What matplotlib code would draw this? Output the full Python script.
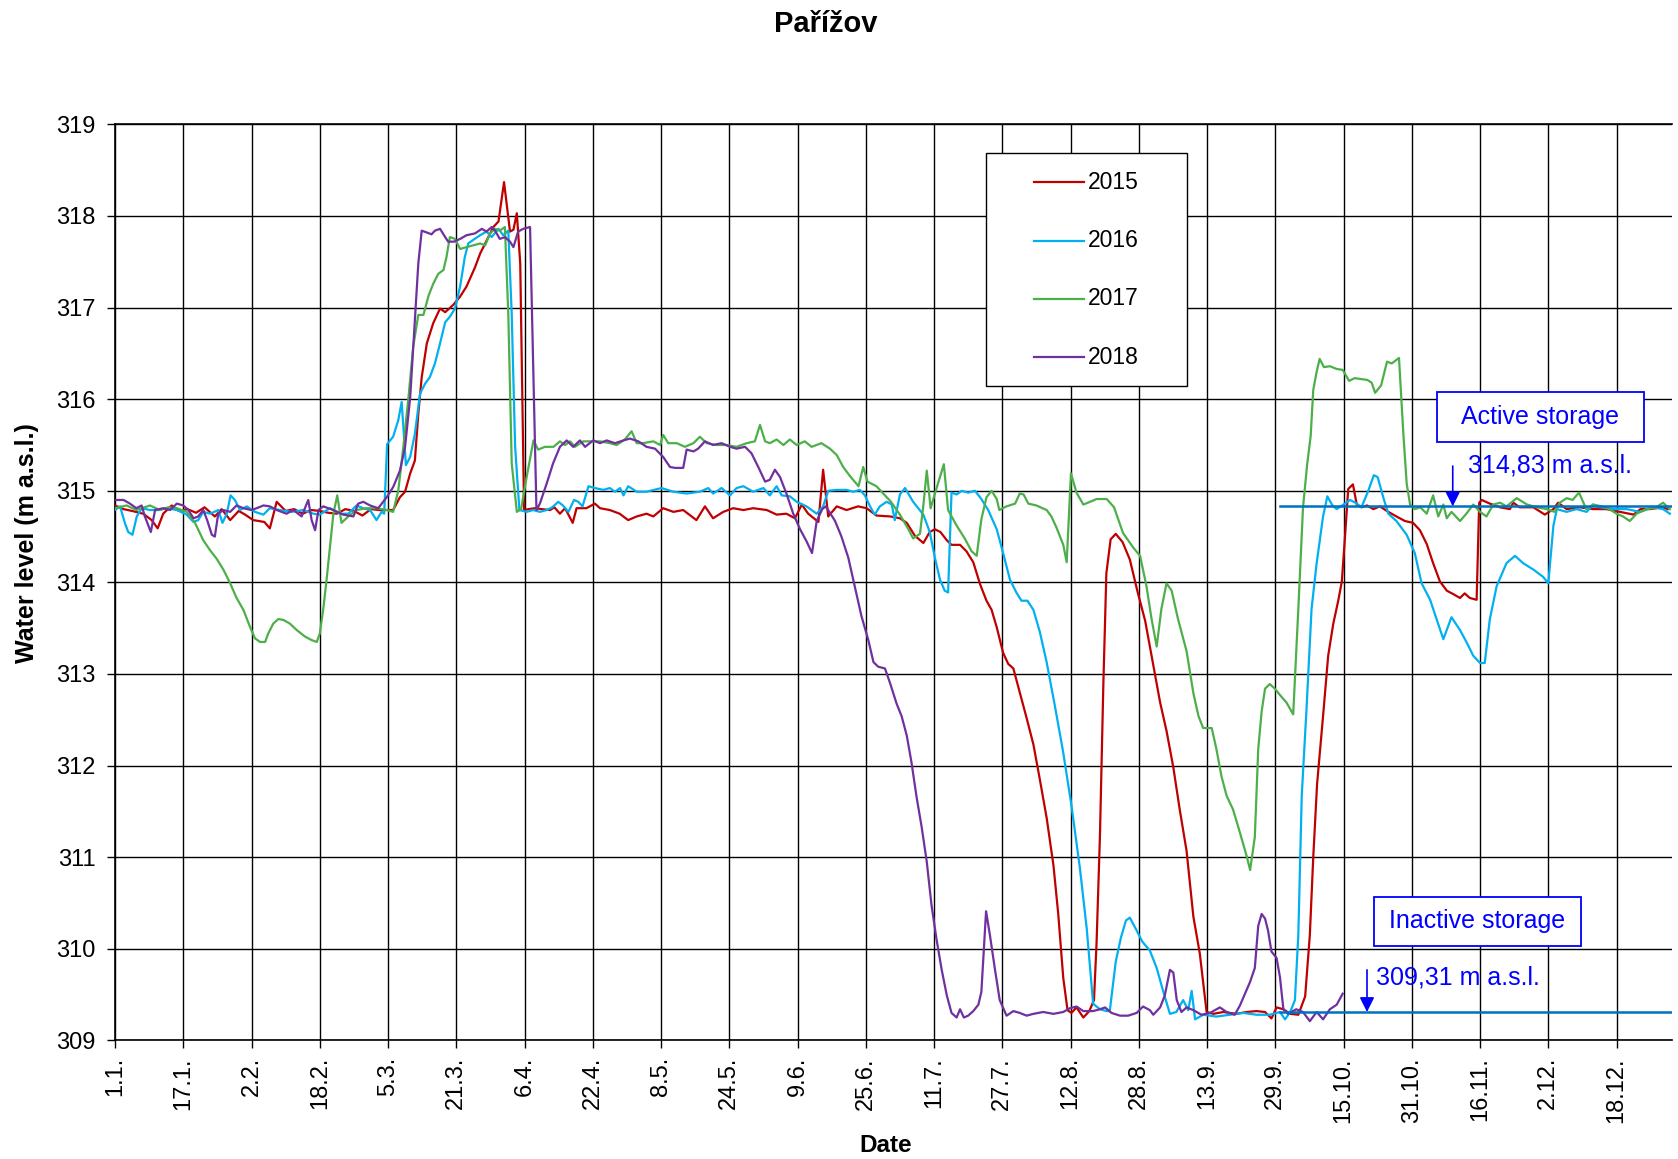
import matplotlib
matplotlib.use('Agg')
import matplotlib.pyplot as plt
from matplotlib.patches import Rectangle
from matplotlib.lines import Line2D

plt.rcParams['font.family'] = ['Liberation Sans', 'DejaVu Sans']

# ---------------- data (day of year, 0 = 1 January) ----------------
years = ['2015', '2016', '2017', '2018']
colors = ['#C00000', '#00B0F0', '#4DAF4A', '#7030A0']

d2015 = [0, 2, 4, 6.6, 8.6, 10, 11.3, 13.3, 15, 17, 19, 21, 23.4, 25, 27, 29, 30.5, 32.4, 35, 36.3, 37.9, 40, 42, 44,
         46, 48, 50, 52, 54, 56, 58, 60, 62, 65.2, 66.8, 68, 69.2, 70.3, 71.1, 71.9, 73.1, 74.6, 76.2, 77.4, 79.3,
         80.9, 82.4, 84.4, 85.6, 87.1, 88.7, 89.9, 91.2, 92.6, 93.4, 94.2, 95, 95.9, 97, 98.5, 100, 102, 103, 104.3,
         105.5, 106.3, 107.3, 108.2, 110.5, 112.5, 113.7, 116, 118.3, 120.3, 122.3, 124.6, 126.2, 128.5, 130.9,
         133.2, 136.3, 138.3, 140.2, 142.6, 144.9, 147.3, 149.6, 152.8, 155.1, 157.4, 159.4, 161, 162.5, 164.9, 166,
         167.2, 169.2, 171.5, 174.2, 176.2, 178.5, 181.7, 184, 185.6, 187.5, 189.5, 191, 192.2, 193.5, 195, 196.1,
         198.1, 199.6, 201.2, 202.8, 204.3, 205.5, 206.7, 208.2, 209.4, 210.6, 212.1, 213.7, 215.3, 216.8, 218.4,
         220, 221.1, 222.3, 223.3, 224.2, 225.4, 227, 228.4, 229.5, 230.1, 230.9, 231.7, 232.4, 233.4, 234.6, 236.2,
         237.9, 239.7, 241.5, 243.4, 245, 246.5, 248.1, 249.6, 251.2, 252.8, 254.3, 255.9, 257.5, 259.8, 262.9,
         265.3, 267.6, 269.6, 271.1, 272.3, 273.9, 275.5, 277.4, 279, 280.1, 280.9, 281.8, 283.2, 284.4, 285.6,
         286.8, 287.6, 288.3, 289.1, 290.2, 291.1, 292.2, 293.5, 295, 296.5, 298.5, 300.4, 302.4, 304.3, 305.9,
         307.5, 309, 310.6, 312.2, 313.8, 315.3, 316.4, 317.6, 319.2, 319.8, 320.4, 322.3, 324.7, 327, 327.8, 329.3,
         332.5, 335.2, 337.2, 338.3, 340.3, 343.4, 346.5, 349.6, 352.8, 356, 357.6, 359.8, 362.9, 364]
v2015 = [314.84, 314.80, 314.78, 314.75, 314.68, 314.59, 314.75, 314.84, 314.78, 314.80, 314.76, 314.82, 314.72,
         314.80, 314.68, 314.78, 314.74, 314.68, 314.66, 314.59, 314.88, 314.78, 314.80, 314.75, 314.79, 314.78,
         314.76, 314.75, 314.80, 314.78, 314.73, 314.80, 314.79, 314.79, 314.93, 314.99, 315.19, 315.33, 315.84,
         316.24, 316.61, 316.83, 316.99, 316.95, 317.03, 317.12, 317.23, 317.44, 317.59, 317.73, 317.88, 317.94,
         318.37, 317.83, 317.85, 318.03, 317.48, 314.79, 314.80, 314.81, 314.80, 314.79, 314.82, 314.75, 314.81,
         314.74, 314.65, 314.81, 314.81, 314.86, 314.81, 314.79, 314.75, 314.68, 314.72, 314.75, 314.72, 314.81,
         314.77, 314.79, 314.68, 314.83, 314.70, 314.77, 314.81, 314.79, 314.81, 314.79, 314.74, 314.75, 314.70,
         314.85, 314.75, 314.66, 315.23, 314.72, 314.83, 314.79, 314.83, 314.81, 314.73, 314.72, 314.70, 314.65,
         314.51, 314.43, 314.55, 314.58, 314.55, 314.46, 314.41, 314.41, 314.34, 314.22, 313.98, 313.80, 313.70,
         313.51, 313.23, 313.11, 313.06, 312.80, 312.52, 312.23, 311.85, 311.43, 310.91, 310.39, 309.68, 309.33,
         309.30, 309.36, 309.25, 309.32, 309.44, 310.06, 311.24, 312.90, 314.10, 314.47, 314.53, 314.44, 314.25,
         313.90, 313.58, 313.10, 312.69, 312.38, 311.98, 311.52, 311.07, 310.35, 309.95, 309.31, 309.29, 309.31,
         309.29, 309.31, 309.32, 309.31, 309.24, 309.36, 309.34, 309.29, 309.28, 309.48, 310.15, 311.00, 311.80,
         312.54, 313.20, 313.55, 313.81, 314.01, 314.47, 315.02, 315.07, 314.85, 314.82, 314.84, 314.80, 314.83,
         314.77, 314.72, 314.67, 314.65, 314.57, 314.42, 314.21, 314.01, 313.91, 313.87, 313.83, 313.88, 313.83,
         313.81, 314.87, 314.90, 314.86, 314.82, 314.80, 314.87, 314.82, 314.82, 314.74, 314.80, 314.87, 314.80,
         314.82, 314.80, 314.80, 314.77, 314.74, 314.80, 314.80, 314.82, 314.80]

d2016 = [0, 1.2, 2.3, 3.1, 4.1, 5.1, 6.3, 8.2, 10.2, 12.1, 14.5, 16.8, 18.4, 19.5, 20.7, 22.3, 24.2, 25.2, 26.2, 27.1,
         28.1, 29.3, 30.9, 32.8, 34.8, 36.3, 38.7, 41.4, 44.1, 46.5, 48, 50.4, 52.7, 54.7, 56.6, 58.2, 59.8, 61.3,
         62.5, 63.1, 63.8, 65.2, 66.4, 67.2, 68.2, 69.2, 70.3, 71.5, 72.7, 73.8, 75, 76.2, 77.4, 78.5, 79.7, 80.9, 82,
         82.8, 84, 85.6, 87.1, 88.3, 89.9, 91, 92.2, 93, 93.8, 94.8, 96.5, 98, 99.6, 101.2, 102.5, 103.9, 105, 106.3,
         107.6, 108.6, 109.6, 111, 112.5, 114.5, 116, 117.2, 118.4, 119.2, 120.3, 122.3, 124.6, 128.1, 130.9, 134,
         137.1, 139.1, 140.2, 142.2, 144.2, 145.7, 147.3, 149.6, 152, 153.5, 155.1, 156.3, 158.2, 159.8, 162.1, 164.5,
         166, 167.2, 169.2, 171.5, 173.1, 174.6, 175.8, 177, 178.1, 179.3, 180.9, 182.1, 182.8, 184, 185.2, 187.1,
         189.5, 191, 192.2, 193.4, 194.5, 195.3, 196.1, 197.3, 198.5, 200, 201.6, 203.1, 204.7, 206.7, 208.2, 209.8,
         211.3, 212.5, 213.9, 215.3, 216.8, 218.4, 220.3, 222.3, 224.2, 226.2, 227.8, 229.3, 230.9, 232.5, 233.2,
         234.6, 235.8, 237, 237.9, 239.5, 240.8, 242.6, 244.2, 245.7, 247.3, 248.8, 250.4, 251.6, 252.4, 253.2, 255.1,
         258.2, 261.3, 264.5, 267.6, 270.7, 273.1, 274.3, 275.5, 276.6, 277.4, 278.2, 279.3, 280.5, 281.7, 283.2,
         284.2, 285.4, 286.4, 288, 289.5, 290.8, 292.2, 293.8, 295.1, 296, 297.3, 298.5, 300.4, 302.8, 304.7, 306.3,
         308.3, 309.8, 311.4, 313.3, 315.3, 316.8, 318.4, 320, 321.1, 322.3, 323.9, 326.2, 328.2, 330.1, 332.5, 334.8,
         336, 337.2, 338, 340.3, 342.6, 345, 346.5, 348.1, 351.2, 354.4, 357.5, 360.6, 362.9, 364.5]
v2016 = [314.79, 314.83, 314.65, 314.55, 314.52, 314.72, 314.81, 314.79, 314.79, 314.81, 314.79, 314.74, 314.66,
         314.68, 314.77, 314.75, 314.79, 314.65, 314.75, 314.95, 314.90, 314.79, 314.83, 314.77, 314.74, 314.81,
         314.79, 314.77, 314.79, 314.75, 314.74, 314.81, 314.75, 314.75, 314.84, 314.81, 314.79, 314.68, 314.77,
         314.75, 315.51, 315.59, 315.77, 315.97, 315.28, 315.37, 315.62, 316.06, 316.17, 316.24, 316.39, 316.61,
         316.84, 316.90, 316.99, 317.23, 317.55, 317.70, 317.74, 317.79, 317.83, 317.77, 317.86, 317.79, 317.84,
         316.93, 315.48, 314.79, 314.77, 314.79, 314.77, 314.79, 314.82, 314.88, 314.84, 314.77, 314.90, 314.88,
         314.83, 315.05, 315.03, 315.01, 315.03, 314.99, 315.03, 314.95, 315.05, 314.99, 314.99, 315.03, 314.99,
         314.97, 314.99, 315.03, 314.97, 315.03, 314.95, 315.03, 315.05, 314.99, 315.03, 314.95, 315.05, 314.95,
         314.94, 314.88, 314.83, 314.75, 314.83, 315.00, 315.01, 315.01, 314.99, 315.01, 314.95, 314.83, 314.74,
         314.83, 314.88, 314.85, 314.68, 314.96, 315.03, 314.88, 314.74, 314.55, 314.27, 314.03, 313.91, 313.89,
         314.98, 314.96, 315.00, 314.98, 315.00, 314.91, 314.79, 314.58, 314.32, 314.03, 313.89, 313.80, 313.80,
         313.70, 313.46, 313.13, 312.66, 312.14, 311.57, 310.88, 310.22, 309.40, 309.34, 309.32, 309.32, 309.86,
         310.12, 310.31, 310.34, 310.20, 310.08, 309.98, 309.79, 309.54, 309.29, 309.31, 309.44, 309.33, 309.54,
         309.23, 309.28, 309.26, 309.28, 309.30, 309.28, 309.28, 309.31, 309.23, 309.31, 309.44, 310.15, 311.67,
         312.60, 313.71, 314.21, 314.72, 314.94, 314.84, 314.80, 314.85, 314.90, 314.87, 314.82, 315.00, 315.17,
         315.15, 314.93, 314.75, 314.67, 314.52, 314.32, 313.99, 313.81, 313.60, 313.38, 313.62, 313.48, 313.35,
         313.20, 313.12, 313.12, 313.60, 313.96, 314.21, 314.29, 314.21, 314.14, 314.06, 313.99, 314.62, 314.80,
         314.77, 314.80, 314.77, 314.85, 314.82, 314.80, 314.80, 314.77, 314.82, 314.80, 314.75]

d2017 = [0, 2.7, 5, 8.2, 10.5, 12.5, 14.5, 16.8, 18.75, 20.7, 22.3, 23.8, 25.4, 27, 28.5, 30.1, 31.6, 32.8, 34, 35.2,
         35.9, 37.1, 38.3, 39.5, 41, 42.6, 44.5, 46.1, 47.3, 48, 48.8, 49.6, 50.4, 51.2, 52.1, 53.1, 54.7, 56.6, 59,
         61.3, 63.7, 65.2, 66.4, 67.6, 68.8, 69.9, 71.1, 72.3, 73.5, 74.6, 75.8, 77, 77.7, 78.5, 79.7, 80.9, 82.4, 84,
         85.6, 86.8, 87.9, 89.1, 90.2, 91.4, 92.2, 93, 94.2, 95.2, 96.5, 98.1, 99.2, 100.8, 102.8, 104.3, 105.5, 106.7,
         107.8, 109.8, 111.7, 113.7, 116, 117.6, 119.5, 121.1, 122.3, 123.8, 126.2, 127.8, 128.5, 129.7, 131.7, 133.6,
         135.6, 137.1, 138.7, 141, 143.4, 145.7, 148.1, 150, 151.2, 152.4, 153.5, 155.1, 156.7, 158.2, 159.8, 161.7,
         163.3, 165.6, 167.6, 169.2, 170.7, 172.3, 174.3, 175.4, 176.4, 178.5, 180.1, 181.9, 184, 186, 187.1, 188.7,
         189.5, 190.3, 191.2, 192.6, 194.3, 195.3, 197.3, 199.2, 200.8, 202, 203.1, 204.3, 205.5, 206.7, 207.3, 209,
         211, 212.1, 213, 214.1, 216, 218.4, 219.5, 220.7, 222.3, 223.1, 224.1, 225.4, 227, 228.6, 230.1, 232.5,
         234.2, 236.3, 238.7, 240.3, 241.8, 243, 244.2, 245.3, 246.5, 247.7, 249.2, 251.2, 252.8, 254, 255.1, 257.1,
         258.2, 259.4, 260.6, 262.1, 263.7, 265.3, 266.1, 267.2, 268, 268.8, 269.6, 270.7, 271.9, 273.1, 274.6, 276.2,
         277.4, 278.5, 279.5, 280.3, 280.9, 281.7, 282.4, 283.4, 284.8, 286.4, 287.8, 289.3, 290.6, 292.1, 293.6,
         294.6, 295.4, 296.8, 298.2, 299.3, 301, 302, 302.8, 303.6, 304.7, 306, 307.5, 309, 310.2, 311.4, 312.2,
         313.3, 315.3, 316.8, 318.4, 320, 321.5, 323.1, 324.7, 326.2, 328.6, 331, 333.3, 335.6, 337.5, 338.7, 340.3,
         341.7, 343.2, 344.9, 346.5, 349.6, 352, 353.5, 355.1, 356.7, 359, 361.3, 362.9, 364.5]
v2017 = [314.81, 314.84, 314.79, 314.84, 314.79, 314.82, 314.81, 314.77, 314.65, 314.46, 314.35, 314.26, 314.14,
         313.99, 313.83, 313.70, 313.52, 313.39, 313.35, 313.35, 313.44, 313.55, 313.60, 313.59, 313.55, 313.48,
         313.41, 313.37, 313.35, 313.44, 313.70, 314.03, 314.39, 314.75, 314.95, 314.65, 314.72, 314.79, 314.81,
         314.81, 314.79, 314.77, 315.00, 315.48, 316.02, 316.57, 316.92, 316.92, 317.13, 317.26, 317.37, 317.41,
         317.55, 317.77, 317.75, 317.64, 317.66, 317.68, 317.70, 317.68, 317.81, 317.86, 317.84, 317.88, 316.93,
         315.30, 314.77, 314.80, 315.15, 315.55, 315.45, 315.48, 315.48, 315.54, 315.50, 315.54, 315.48, 315.54,
         315.54, 315.54, 315.52, 315.50, 315.56, 315.65, 315.52, 315.52, 315.54, 315.50, 315.61, 315.52, 315.52,
         315.48, 315.52, 315.59, 315.52, 315.50, 315.50, 315.48, 315.52, 315.54, 315.72, 315.54, 315.52, 315.56,
         315.50, 315.56, 315.50, 315.54, 315.48, 315.52, 315.46, 315.39, 315.26, 315.16, 315.05, 315.26, 315.10,
         315.05, 314.97, 314.88, 314.74, 314.58, 314.48, 314.53, 314.84, 315.22, 314.81, 315.03, 315.29, 314.79,
         314.62, 314.48, 314.34, 314.29, 314.69, 314.93, 315.00, 314.91, 314.79, 314.83, 314.86, 314.97, 314.96,
         314.86, 314.84, 314.79, 314.72, 314.60, 314.41, 314.22, 315.19, 314.98, 314.85, 314.88, 314.91, 314.91,
         314.82, 314.54, 314.38, 314.29, 313.96, 313.60, 313.30, 313.71, 313.99, 313.91, 313.60, 313.25, 312.79,
         312.54, 312.41, 312.41, 312.18, 311.88, 311.67, 311.52, 311.27, 311.01, 310.86, 311.22, 312.18, 312.59,
         312.84, 312.89, 312.84, 312.77, 312.69, 312.56, 313.71, 314.82, 315.30, 315.60, 316.10, 316.30, 316.44,
         316.35, 316.36, 316.33, 316.32, 316.20, 316.23, 316.22, 316.21, 316.18, 316.07, 316.15, 316.41, 316.39,
         316.45, 315.64, 315.08, 314.85, 314.80, 314.82, 314.75, 314.95, 314.72, 314.85, 314.70, 314.77, 314.67,
         314.75, 314.85, 314.77, 314.72, 314.85, 314.87, 314.83, 314.92, 314.85, 314.82, 314.80, 314.77, 314.87,
         314.92, 314.90, 314.98, 314.80, 314.85, 314.82, 314.75, 314.72, 314.67, 314.75, 314.80, 314.82, 314.87,
         314.80]

d2018 = [0, 2, 3.5, 5, 6.25, 7, 8.4, 9.4, 11.3, 12.9, 14.5, 16, 17.2, 18.4, 19.5, 20.7, 21.6, 22.7, 23.4, 24.2, 25.4,
         27, 28.5, 30.1, 32, 33.2, 34.8, 36.3, 37.9, 40.2, 41.8, 43.75, 45.3, 46.1, 46.9, 47.7, 48.8, 51.2, 53.5,
         55.9, 57, 58.2, 59.8, 61.7, 63.7, 65.2, 66.8, 68, 69.2, 70.3, 71.1, 71.9, 73.1, 74.2, 75, 76.2, 77.4, 78.1,
         79.5, 80.9, 82.4, 84.4, 86, 87.1, 88.3, 89.1, 90.2, 91.4, 92.6, 93.4, 94.5, 95.7, 97.3, 98.1, 98.8, 99.6,
         101.2, 102.7, 104.3, 105.9, 107.4, 109, 110.2, 112.1, 113.7, 115.25, 117.2, 119.2, 120.7, 122.7, 124.6,
         126.6, 128.5, 130.1, 131.3, 133.2, 134, 135.6, 136.7, 138.3, 140.2, 142.2, 144.2, 145.7, 147.7, 149.2, 150.8,
         152.4, 153.5, 154.7, 155.9, 157.4, 159, 160.6, 162.1, 163.4, 164.5, 165.8, 166.6, 167.6, 168.8, 170.3,
         171.9, 173.5, 175, 176.6, 177.8, 178.9, 180.5, 181.7, 183.2, 184.4, 185.6, 186.7, 187.9, 189.1, 190.3,
         191.4, 192.6, 193.8, 195, 196.1, 197.3, 198.1, 199, 200, 201.2, 202.4, 203.1, 204.2, 205.1, 206.3, 207.4,
         209, 210.6, 212.1, 213.7, 215.3, 217.6, 220, 222.3, 223.8, 225.4, 227, 229.3, 230.9, 232.1, 233.6, 235.6,
         237.5, 239.5, 241, 242.6, 243.4, 245, 246.1, 247.3, 248.1, 248.9, 250, 251.2, 252.8, 254.7, 256.7, 259,
         260.6, 262.5, 263.7, 264.9, 266.1, 267.2, 268, 268.8, 269.6, 270.3, 271.1, 272.3, 273.1, 273.9, 275, 276.9,
         278.5, 280.1, 281.7, 283.2, 284.8, 286.4, 287.8]
v2018 = [314.90, 314.90, 314.86, 314.81, 314.84, 314.72, 314.55, 314.79, 314.81, 314.79, 314.86, 314.84, 314.79,
         314.70, 314.72, 314.79, 314.68, 314.52, 314.50, 314.75, 314.79, 314.77, 314.84, 314.81, 314.79, 314.81,
         314.84, 314.83, 314.79, 314.75, 314.79, 314.72, 314.90, 314.68, 314.57, 314.79, 314.83, 314.79, 314.74,
         314.72, 314.86, 314.88, 314.84, 314.81, 314.93, 315.04, 315.22, 315.48, 316.02, 316.86, 317.48, 317.84,
         317.82, 317.80, 317.84, 317.86, 317.77, 317.72, 317.72, 317.75, 317.79, 317.81, 317.86, 317.83, 317.88,
         317.84, 317.75, 317.77, 317.72, 317.66, 317.83, 317.86, 317.88, 316.21, 314.79, 314.86, 315.08, 315.30,
         315.48, 315.55, 315.48, 315.55, 315.48, 315.55, 315.52, 315.55, 315.52, 315.55, 315.57, 315.54, 315.48,
         315.46, 315.37, 315.26, 315.25, 315.25, 315.45, 315.43, 315.46, 315.54, 315.50, 315.52, 315.48, 315.46,
         315.48, 315.41, 315.26, 315.10, 315.12, 315.23, 315.15, 314.97, 314.75, 314.58, 314.45, 314.32, 314.67,
         314.80, 314.83, 314.76, 314.67, 314.50, 314.27, 313.94, 313.63, 313.37, 313.13, 313.08, 313.06, 312.90,
         312.68, 312.54, 312.33, 312.04, 311.66, 311.33, 310.95, 310.48, 310.10, 309.77, 309.49, 309.30, 309.25,
         309.34, 309.25, 309.27, 309.32, 309.39, 309.53, 310.41, 310.15, 309.77, 309.44, 309.27, 309.32, 309.30,
         309.27, 309.29, 309.31, 309.29, 309.31, 309.35, 309.37, 309.32, 309.32, 309.34, 309.36, 309.30, 309.27,
         309.27, 309.30, 309.37, 309.33, 309.28, 309.36, 309.49, 309.77, 309.74, 309.44, 309.31, 309.36, 309.33,
         309.28, 309.30, 309.36, 309.31, 309.28, 309.38, 309.51, 309.64, 309.79, 310.25, 310.38, 310.33, 310.20,
         309.97, 309.90, 309.69, 309.34, 309.29, 309.34, 309.31, 309.21, 309.31, 309.23, 309.34, 309.39, 309.51]

tick_days = [0, 16, 32, 48, 64, 80, 96, 112, 128, 144, 160, 176, 192, 208, 224, 240, 256, 272, 288, 304, 320, 336, 352]
tick_labels = ['1.1.', '17.1.', '2.2.', '18.2.', '5.3.', '21.3.', '6.4.', '22.4.', '8.5.', '24.5.', '9.6.', '25.6.',
               '11.7.', '27.7.', '12.8.', '28.8.', '13.9.', '29.9.', '15.10.', '31.10.', '16.11.', '2.12.', '18.12.']
y_ticks = [309, 310, 311, 312, 313, 314, 315, 316, 317, 318, 319]

active_level = 314.83
inactive_level = 309.31
storage_start_day = 273
storage_end_day = 365

series_days = [d2015, d2016, d2017, d2018]
series_vals = [v2015, v2016, v2017, v2018]

# ---------------- figure ----------------
W, H, DPI = 1678, 1159, 100
fig = plt.figure(figsize=(W / DPI, H / DPI), dpi=DPI)
L, R, T, B = 115, 1672, 124.4, 1040.4
ax = fig.add_axes([L / W, 1 - B / H, (R - L) / W, (B - T) / H])

for d, v, c, lab in zip(series_days, series_vals, colors, years):
    ax.plot(d, v, color=c, lw=1.6, label=lab, zorder=3)

ax.set_xlim(0, 365)
ax.set_ylim(309, 319)
ax.set_xticks(tick_days)
ax.set_xticklabels(tick_labels, rotation=90)
ax.set_yticks(y_ticks)
ax.grid(True, color='black', lw=1.0)
ax.set_axisbelow(True)
ax.tick_params(direction='out', length=6, width=1.0, labelsize=17, color='black')
ax.tick_params(axis='x', pad=6)
ax.tick_params(axis='y', pad=8)
for s in ['left', 'bottom', 'top']:
    ax.spines[s].set_color('black')
    ax.spines[s].set_linewidth(1.2)
ax.spines['right'].set_visible(False)

# storage levels
ax.plot([storage_start_day, storage_end_day], [active_level, active_level], color='#0070C0', lw=1.8, zorder=5)
ax.plot([storage_start_day, storage_end_day], [inactive_level, inactive_level], color='#0070C0', lw=1.8, zorder=5)

arrow_kw = dict(arrowstyle='-|>', color='#0000FF', lw=1.2, mutation_scale=22, shrinkA=0, shrinkB=0)
ax.annotate('', xy=(313.6, active_level), xytext=(313.6, 315.27), arrowprops=arrow_kw, zorder=6)
ax.annotate('', xy=(293.5, inactive_level), xytext=(293.5, 309.77), arrowprops=arrow_kw, zorder=6)
ax.text(317.1, 315.28, '314,83 m a.s.l.', color='#0000FF', fontsize=18, ha='left', va='center', zorder=6)
ax.text(295.6, 309.69, '309,31 m a.s.l.', color='#0000FF', fontsize=18, ha='left', va='center', zorder=6)

ax.add_patch(Rectangle((309.9, 315.536), 48.5, 0.548, facecolor='white', edgecolor='#0000FF', lw=1.3, zorder=6))
ax.text(309.9 + 48.5 / 2, 315.536 + 0.548 / 2, 'Active storage', color='#0000FF', fontsize=18,
        ha='center', va='center', zorder=7)
ax.add_patch(Rectangle((295.2, 310.036), 48.4, 0.534, facecolor='white', edgecolor='#0000FF', lw=1.3, zorder=6))
ax.text(295.2 + 48.4 / 2, 310.036 + 0.534 / 2, 'Inactive storage', color='#0000FF', fontsize=18,
        ha='center', va='center', zorder=7)

# legend (drawn manually to match the boxed layout)
def fx(px):
    return px / W

def fy(py):
    return 1 - py / H

fig.patches.append(Rectangle((fx(986), fy(386)), fx(1187) - fx(986), fy(153) - fy(386), transform=fig.transFigure,
                             facecolor='white', edgecolor='black', lw=1.0, zorder=10))
for i, (c, lab) in enumerate(zip(colors, years)):
    yy = 182.3 + i * 58.3
    fig.lines.append(Line2D([fx(1034), fx(1084)], [fy(yy), fy(yy)], transform=fig.transFigure, color=c, lw=1.6,
                            zorder=11))
    fig.text(fx(1088), fy(yy), lab, fontsize=16.5, ha='left', va='center', zorder=11)

fig.text(fx(826), fy(23.5), 'Pařížov', fontsize=21, fontweight='bold', ha='center', va='center')
fig.text(fx(27), fy(542.6), 'Water level (m a.s.l.)', fontsize=18, fontweight='bold', rotation=90,
         ha='center', va='center')
fig.text(fx(886), fy(1145), 'Date', fontsize=17.5, fontweight='bold', ha='center', va='center')

fig.savefig('out.png', dpi=DPI)
